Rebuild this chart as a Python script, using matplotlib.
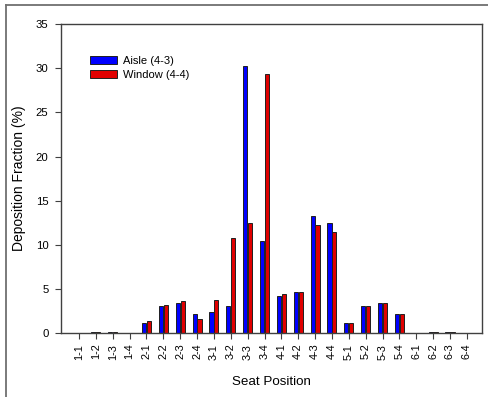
import matplotlib
matplotlib.use("Agg")
import matplotlib.pyplot as plt
import numpy as np
from matplotlib.lines import Line2D

categories = ["1-1", "1-2", "1-3", "1-4", "2-1", "2-2", "2-3", "2-4",
              "3-1", "3-2", "3-3", "3-4", "4-1", "4-2", "4-3", "4-4",
              "5-1", "5-2", "5-3", "5-4", "6-1", "6-2", "6-3", "6-4"]
aisle = [0.03, 0.1, 0.1, 0.03, 1.2, 3.05, 3.46, 2.14,
         2.44, 3.12, 30.2, 10.4, 4.17, 4.66, 13.3, 12.48,
         1.2, 3.05, 3.46, 2.14, 0.03, 0.1, 0.1, 0.03]
window = [0.03, 0.1, 0.1, 0.03, 1.43, 3.2, 3.68, 1.65,
          3.72, 10.8, 12.48, 29.36, 4.47, 4.66, 12.26, 11.47,
          1.2, 3.05, 3.46, 2.14, 0.03, 0.1, 0.1, 0.03]
series_labels = ["Aisle (4-3)", "Window (4-4)"]
yticks = [0, 5, 10, 15, 20, 25, 30, 35]

plt.rcParams['font.family'] = ['Liberation Sans', 'DejaVu Sans']

W, H = 488, 397
fig = plt.figure(figsize=(W / 100, H / 100), dpi=100)
ax = fig.add_axes([61 / W, 1 - 333.3 / H, (482 - 61) / W, (333.3 - 24) / H])

x = np.arange(len(categories))
bw = 0.25
off = 0.145
ax.bar(x - off, aisle, bw, color="#0000ff", edgecolor="#202020", linewidth=0.7,
       label=series_labels[0])
ax.bar(x + off, window, bw, color="#e00000", edgecolor="#202020", linewidth=0.7,
       label=series_labels[1])

ax.set_xlim(-1.07, 23.9)
ax.set_ylim(0, 35)
ax.set_yticks(yticks)
ax.set_xticks(x)
ax.set_xticklabels(categories, rotation=90, fontsize=7.8)
ax.tick_params(axis='y', labelsize=8.2, direction='out', length=4, width=0.8,
               color="#404040", pad=5)
ax.tick_params(axis='x', direction='out', length=4, width=0.8, color="#404040")
for s in ax.spines.values():
    s.set_color("#404040")
    s.set_linewidth(1.0)

ax.set_xlabel("Seat Position", fontsize=9.6, labelpad=12)
ax.set_ylabel("Deposition Fraction (%)", fontsize=10, labelpad=7)

ax.legend(loc="upper left", bbox_to_anchor=(0.059, 0.911), frameon=False,
          fontsize=8, handlelength=2.4, handleheight=0.7, handletextpad=0.5,
          labelspacing=0.35, borderaxespad=0)

# outer frame (top and left lines)
fig.add_artist(Line2D([6 / W, 1], [1 - 5 / H, 1 - 5 / H], transform=fig.transFigure,
                      color="#707070", linewidth=1.3))
fig.add_artist(Line2D([6 / W, 6 / W], [0, 1 - 5 / H], transform=fig.transFigure,
                      color="#707070", linewidth=1.3))

fig.savefig("out.png", dpi=100)
